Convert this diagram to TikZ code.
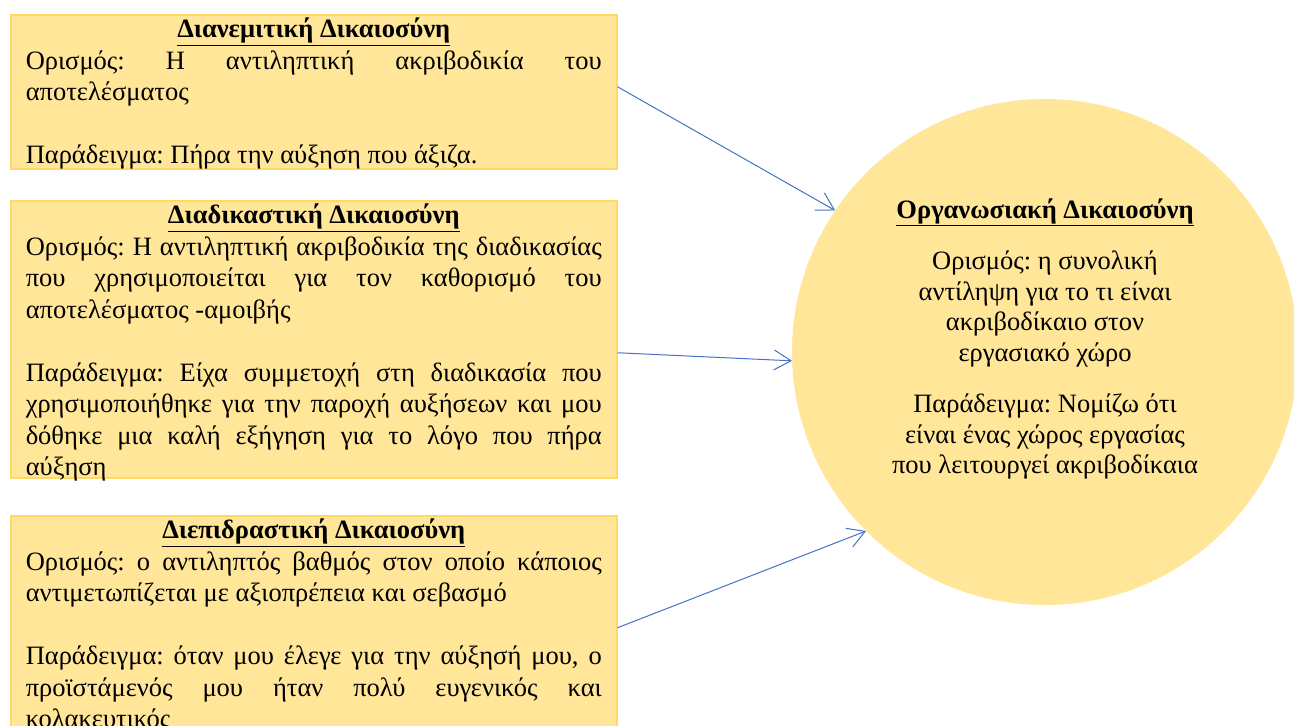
\documentclass[tikz,border=0pt]{standalone}
\usepackage{fontspec}
\setmainfont{Liberation Serif}
\usetikzlibrary{arrows.meta}

\definecolor{boxfill}{HTML}{FFE699}
\definecolor{boxline}{HTML}{FFD966}
\definecolor{arrowblue}{HTML}{4472C4}

\frenchspacing

% justified line of fixed width, stretched to the full column
\newcommand{\jl}[1]{\makebox[\linewidth][s]{#1}\par}
% centred, bold and underlined heading of a box
\newcommand{\boxhead}[1]{\makebox[\linewidth][c]{\rule{0pt}{23pt}\textbf{\underline{#1}}}\par}
% text block of a box: height #1, contents #2
\newcommand{\boxbody}[2]{\parbox[c][#1][t]{576pt}{\fontsize{26.5}{31.5}\selectfont #2}}
\newcommand{\blankline}{\mbox{}\par}

\tikzset{
  infobox/.style={draw=boxline, line width=1.5pt, fill=boxfill, rectangle,
    inner xsep=15pt, inner ysep=0pt, anchor=north west},
  bigcircle/.style={circle, fill=boxfill, minimum size=506pt, inner sep=0pt},
  conn/.style={draw=arrowblue, line width=1pt,
    -{Straight Barb[length=17pt,width=20pt,line width=1pt]}}
}

\begin{document}
\begin{tikzpicture}[x=1pt, y=-1pt]
  \clip (0,0) rectangle (1294,726);
  \fill[white] (0,0) rectangle (1294,726);

  % organisational justice
  \node[bigcircle] (c) at (1045,352) {};
  \node[align=center, font=\fontsize{26.5}{30.5}\selectfont] (ct) at (1045,339) {%
    \textbf{\underline{Οργανωσιακή Δικαιοσύνη}}\\[21pt]
    Ορισμός: η συνολική\\
    αντίληψη για το τι είναι\\
    ακριβοδίκαιο στον\\
    εργασιακό χώρο\\[21pt]
    Παράδειγμα: Νομίζω ότι\\
    είναι ένας χώρος εργασίας\\
    που λειτουργεί ακριβοδίκαια};

  % distributive justice
  \node[infobox] (b1) at (10,14) {\boxbody{154pt}{%
    \boxhead{Διανεμιτική Δικαιοσύνη}
    \jl{Ορισμός: Η αντιληπτική ακριβοδικία του}
    αποτελέσματος\par
    \blankline
    Παράδειγμα: Πήρα την αύξηση που άξιζα.\par}};

  % procedural justice
  \node[infobox] (b2) at (10,200) {\boxbody{277pt}{%
    \boxhead{Διαδικαστική Δικαιοσύνη}
    \jl{Ορισμός: Η αντιληπτική ακριβοδικία της διαδικασίας}
    \jl{που χρησιμοποιείται για τον καθορισμό του}
    αποτελέσματος -αμοιβής\par
    \blankline
    \jl{Παράδειγμα: Είχα συμμετοχή στη διαδικασία που}
    \jl{χρησιμοποιήθηκε για την παροχή αυξήσεων και μου}
    \jl{δόθηκε μια καλή εξήγηση για το λόγο που πήρα}
    αύξηση\par}};

  % interactional justice
  \node[infobox] (b3) at (10,515) {\boxbody{235pt}{%
    \boxhead{Διεπιδραστική Δικαιοσύνη}
    \jl{Ορισμός: ο αντιληπτός βαθμός στον οποίο κάποιος}
    αντιμετωπίζεται με αξιοπρέπεια και σεβασμό\par
    \blankline
    \jl{Παράδειγμα: όταν μου έλεγε για την αύξησή μου, ο}
    \jl{προϊστάμενός μου ήταν πολύ ευγενικός και}
    κολακευτικός\par}};

  % connectors into the circle
  \draw[conn] ([yshift=5pt]b1.east) -- (c.146.9);
  \draw[conn] ([yshift=-13.5pt]b2.east) -- (c.182.5);
  \draw[conn] ([yshift=5.5pt]b3.east) -- (c.225.8);
\end{tikzpicture}
\end{document}
